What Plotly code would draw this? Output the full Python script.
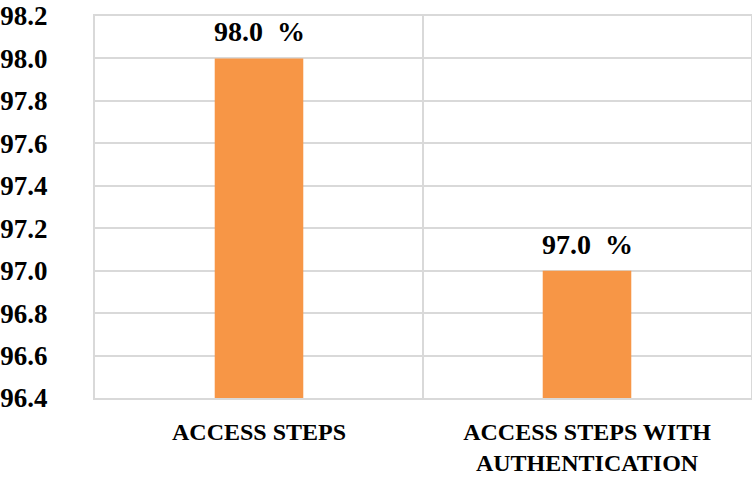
import plotly.graph_objects as go

categories = ["ACCESS STEPS", "ACCESS STEPS WITH<br>AUTHENTICATION"]
values = [98.0, 97.0]
labels = ["98.0  %", "97.0  %"]
y_ticks = [96.4, 96.6, 96.8, 97.0, 97.2, 97.4, 97.6, 97.8, 98.0, 98.2]

serif = "Liberation Serif"
grid = "#d9d9d9"

fig = go.Figure()
fig.add_trace(go.Bar(x=categories, y=values, width=0.27, marker_color="#F79646",
                     marker_line_width=0))

for c, v, t in zip(categories, values, labels):
    fig.add_annotation(x=c, y=v, text=t, showarrow=False, yanchor="bottom",
                       yshift=9, font=dict(family=serif, size=28, color="black", weight="bold"))

fig.update_layout(
    width=752, height=478,
    margin=dict(l=95, r=1, t=16, b=80),
    paper_bgcolor="white", plot_bgcolor="white",
    showlegend=False,
    xaxis=dict(tickson="boundaries", showgrid=True, gridcolor=grid, gridwidth=2,
               ticks="", tickfont=dict(family=serif, size=24, color="black", weight="bold"),
               ticklabelstandoff=11, showline=True, linecolor=grid, linewidth=2, mirror=True,
               automargin=False),
    yaxis=dict(range=[96.4, 98.2], tickvals=y_ticks, tickformat=".1f",
               showgrid=True, gridcolor=grid, gridwidth=2, zeroline=False,
               showline=True, linecolor=grid, linewidth=2, mirror=True,
               tickfont=dict(family=serif, size=27, color="black", weight="bold"),
               ticklabelstandoff=40, automargin=False),
)

fig.write_html("out.html", config={"displayModeBar": False},
               post_script="document.body.style.margin='0';")
